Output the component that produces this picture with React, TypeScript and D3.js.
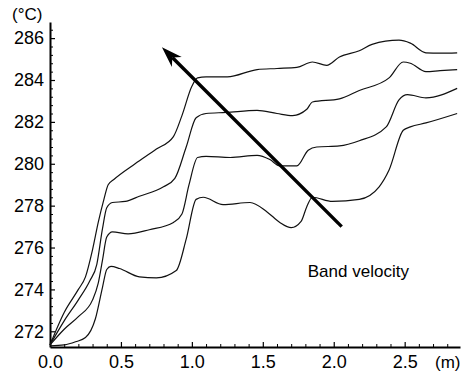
import { useEffect, useRef } from "react";
import * as d3 from "d3";

type Pt = [number, number];

// curves, top (slowest band) to bottom
const curveTop: Pt[] = [
  [0, 271.35], [0.1, 272.9], [0.2, 274.0], [0.25, 274.6], [0.3, 275.9], [0.34, 277.2],
  [0.38, 278.3], [0.41, 279.0], [0.45, 279.25], [0.6, 280.0], [0.75, 280.7], [0.87, 281.3],
  [0.93, 282.3], [1.0, 283.7], [1.04, 284.1], [1.1, 284.15], [1.25, 284.15], [1.46, 284.5],
  [1.6, 284.55], [1.74, 284.6], [1.85, 284.86], [1.95, 284.7], [2.04, 285.1], [2.18, 285.4],
  [2.27, 285.7], [2.46, 285.9], [2.54, 285.76], [2.65, 285.3], [2.75, 285.28], [2.87, 285.3],
];
const curveSecond: Pt[] = [
  [0, 271.35], [0.1, 272.5], [0.2, 273.5], [0.28, 274.4], [0.33, 275.2], [0.37, 276.9],
  [0.4, 277.9], [0.44, 278.15], [0.53, 278.2], [0.63, 278.45], [0.8, 278.9], [0.88, 279.3],
  [0.96, 280.8], [1.03, 282.2], [1.1, 282.4], [1.24, 282.45], [1.46, 282.55], [1.6, 282.4],
  [1.71, 282.3], [1.81, 282.6], [1.85, 282.95], [2.04, 283.1], [2.18, 283.5], [2.39, 284.1],
  [2.49, 284.86], [2.54, 284.8], [2.65, 284.4], [2.75, 284.45], [2.87, 284.5],
];
const curveThird: Pt[] = [
  [0, 271.35], [0.1, 272.1], [0.2, 272.7], [0.3, 273.5], [0.34, 274.3], [0.37, 275.4],
  [0.4, 276.5], [0.44, 276.75], [0.55, 276.65], [0.7, 276.85], [0.87, 277.2], [0.93, 277.6],
  [0.98, 279.0], [1.04, 280.3], [1.1, 280.35], [1.27, 280.3], [1.46, 280.4], [1.55, 280.2],
  [1.62, 279.9], [1.74, 279.9], [1.82, 280.65], [1.88, 280.8], [2.04, 280.85], [2.18, 281.1],
  [2.37, 281.76], [2.46, 283.05], [2.52, 283.3], [2.65, 283.15], [2.87, 283.6],
];
const curveBottom: Pt[] = [
  [0, 271.3], [0.1, 271.35], [0.18, 271.5], [0.25, 271.7], [0.32, 272.6], [0.37, 274.1],
  [0.4, 274.95], [0.43, 275.1], [0.49, 275.0], [0.63, 274.6], [0.75, 274.55], [0.89, 274.9],
  [0.96, 276.4], [1.03, 278.3], [1.08, 278.4], [1.22, 278.05], [1.41, 278.15], [1.53, 277.7],
  [1.62, 277.2], [1.7, 276.95], [1.77, 277.25], [1.81, 277.95], [1.85, 278.4], [1.99, 278.2],
  [2.18, 278.3], [2.32, 278.9], [2.39, 279.7], [2.49, 281.6], [2.54, 281.76], [2.65, 281.95],
  [2.87, 282.4],
];
const curves = [curveTop, curveSecond, curveThird, curveBottom];

const xTicks = [0, 0.5, 1.0, 1.5, 2.0, 2.5];
const yTicks = [272, 274, 276, 278, 280, 282, 284, 286];

// arrow: tail -> tip, in data units
const arrowTail: Pt = [2.056, 277.0];
const arrowTip: Pt = [0.789, 285.57];
const arrowLabel = "Band velocity";
const arrowLabelAt: Pt = [1.817, 274.6];

export default function App() {
  const svgRef = useRef<SVGSVGElement>(null);

  useEffect(() => {
    if (!svgRef.current) return;
    const svg = d3.select(svgRef.current);
    svg.selectAll("*").remove();

    const font = "'Liberation Sans', Arial, Helvetica, sans-serif";
    const x = d3.scaleLinear().domain([0, 2.89]).range([50, 460]);
    const y = d3.scaleLinear().domain([271.25, 286.77]).range([347, 22]);

    // minor ticks
    const xMinor = d3.range(0, 2.89, 0.1).filter((v) => Math.abs(v * 2 - Math.round(v * 2)) > 1e-6);
    const yMinor = d3.range(271.6, 286.7, 0.4).filter((v) => Math.abs((v - 272) / 2 - Math.round((v - 272) / 2)) > 1e-6);

    svg
      .append("g")
      .attr("transform", `translate(0,${y.range()[0]})`)
      .call(d3.axisBottom(x).tickValues(xMinor).tickSize(-3).tickSizeOuter(0).tickFormat(() => ""))
      .call((g) => g.select(".domain").remove())
      .call((g) => g.selectAll(".tick line").attr("stroke", "#000").attr("stroke-width", 1));

    svg
      .append("g")
      .attr("transform", `translate(${x.range()[0]},0)`)
      .call(d3.axisLeft(y).tickValues(yMinor).tickSize(-3).tickSizeOuter(0).tickFormat(() => ""))
      .call((g) => g.select(".domain").remove())
      .call((g) => g.selectAll(".tick line").attr("stroke", "#000").attr("stroke-width", 1));

    // X axis
    svg
      .append("g")
      .attr("transform", `translate(0,${y.range()[0]})`)
      .call(
        d3
          .axisBottom(x)
          .tickValues(xTicks)
          .tickSize(-5)
          .tickSizeOuter(0)
          .tickPadding(8)
          .tickFormat((d) => d3.format(".1f")(d as number)),
      )
      .call((g) => g.select(".domain").attr("stroke", "#000").attr("stroke-width", 2))
      .call((g) => g.selectAll(".tick line").attr("stroke", "#000").attr("stroke-width", 1.2))
      .call((g) =>
        g.selectAll("text").attr("font-family", font).attr("font-size", 18).attr("fill", "#000"),
      );

    // Y axis
    svg
      .append("g")
      .attr("transform", `translate(${x.range()[0]},0)`)
      .call(
        d3
          .axisLeft(y)
          .tickValues(yTicks)
          .tickSize(-5)
          .tickSizeOuter(0)
          .tickPadding(6)
          .tickFormat((d) => `${d}`),
      )
      .call((g) => g.select(".domain").attr("stroke", "#000").attr("stroke-width", 2))
      .call((g) => g.selectAll(".tick line").attr("stroke", "#000").attr("stroke-width", 1.2))
      .call((g) =>
        g.selectAll("text").attr("font-family", font).attr("font-size", 18).attr("fill", "#000"),
      );

    // unit labels
    svg
      .append("text")
      .attr("x", 12)
      .attr("y", 20)
      .attr("font-family", font)
      .attr("font-size", 17)
      .text("(°C)");
    svg
      .append("text")
      .attr("x", 435)
      .attr("y", 368)
      .attr("font-family", font)
      .attr("font-size", 17)
      .text("(m)");

    // curves
    const line = d3
      .line<Pt>()
      .x((d) => x(d[0]))
      .y((d) => y(d[1]))
      .curve(d3.curveMonotoneX);

    curves.forEach((c) => {
      svg
        .append("path")
        .datum(c)
        .attr("fill", "none")
        .attr("stroke", "#111")
        .attr("stroke-width", 1.2)
        .attr("d", line);
    });

    // arrow
    const tx = x(arrowTail[0]);
    const ty = y(arrowTail[1]);
    const hx = x(arrowTip[0]);
    const hy = y(arrowTip[1]);
    const ang = Math.atan2(hy - ty, hx - tx);
    const headLen = 21;
    const headHalf = 7;
    const back = (len: number, off: number): [number, number] => [
      hx - len * Math.cos(ang) - off * Math.sin(ang),
      hy - len * Math.sin(ang) + off * Math.cos(ang),
    ];
    const neck = back(headLen * 0.7, 0);
    svg
      .append("line")
      .attr("x1", tx)
      .attr("y1", ty)
      .attr("x2", neck[0])
      .attr("y2", neck[1])
      .attr("stroke", "#000")
      .attr("stroke-width", 3.4);
    const head = [[hx, hy], back(headLen, headHalf), neck, back(headLen, -headHalf)];
    svg
      .append("path")
      .attr("d", `M${head.map((p) => p.join(",")).join("L")}Z`)
      .attr("fill", "#000");

    svg
      .append("text")
      .attr("x", x(arrowLabelAt[0]))
      .attr("y", y(arrowLabelAt[1]))
      .attr("font-family", font)
      .attr("font-size", 17)
      .text(arrowLabel);
  }, []);

  return (
    <svg
      ref={svgRef}
      width={472}
      height={376}
      style={{ position: "absolute", left: 0, top: 0, background: "#fff" }}
    />
  );
}
